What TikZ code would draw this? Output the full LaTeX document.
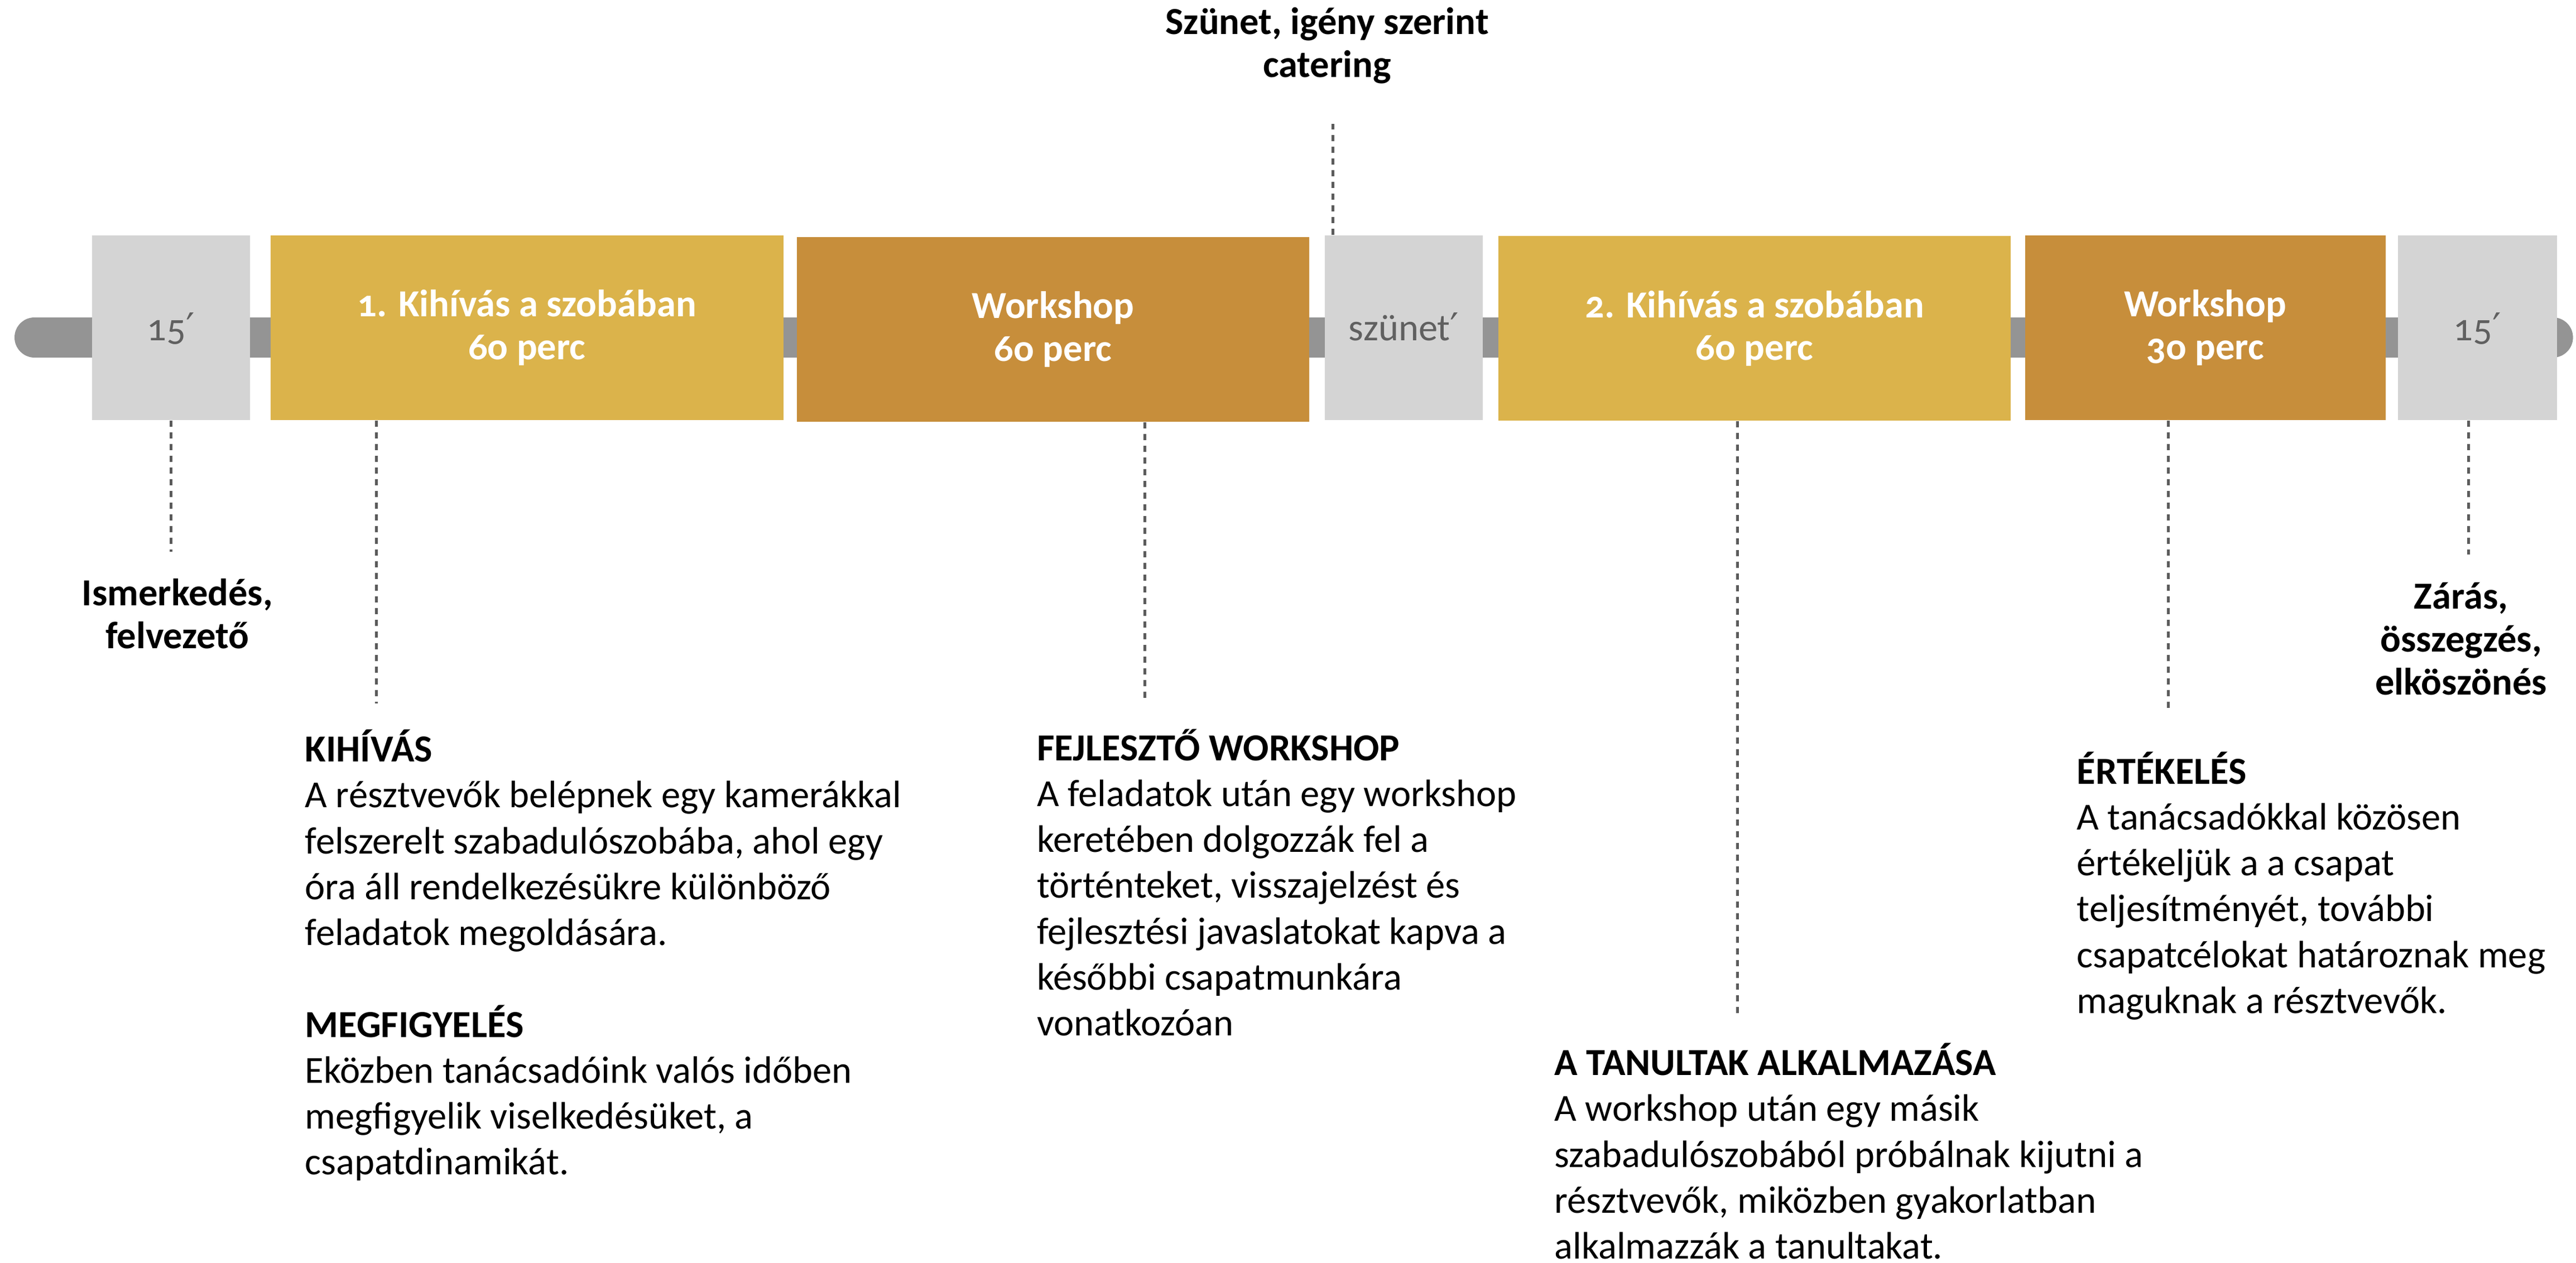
\documentclass[tikz,border=0pt]{standalone}
\usepackage{fontspec}
\setmainfont{Carlito}[Numbers=OldStyle]
\newfontfamily\primefont{DejaVu Sans}
\newcommand{\perc}{{\primefont ′}}
\usepackage{tikz}

\definecolor{tlyellow}{HTML}{DBB34B}
\definecolor{tlbrown}{HTML}{C78E3B}
\definecolor{tlgray}{HTML}{D4D4D4}
\definecolor{tlbar}{HTML}{949494}
\definecolor{tltext}{HTML}{606060}
\definecolor{tldash}{HTML}{5B5B5B}

\begin{document}
\begin{tikzpicture}[x=0.02944cm,y=-0.02944cm]
		\tikzstyle{every node}+=[inner sep=0pt]
		\tikzstyle{slot}=[minimum height=3.31cm, text=white, align=center, font=\fontsize{19.5}{21.7}\selectfont\bfseries]
		\tikzstyle{gslot}=[slot, fill=tlgray, text=tltext, minimum width=2.83cm, text height=14pt, text depth=1pt, font=\fontsize{19.5}{21.7}\selectfont]
		\tikzstyle{yslot}=[slot, fill=tlyellow, minimum width=9.19cm]
		\tikzstyle{wslot}=[slot, fill=tlbrown]
		\tikzstyle{leader}=[draw=tldash, line width=0.05cm, dash pattern=on 0.11cm off 0.10cm]
		\tikzstyle{note}=[anchor=base, align=center, font=\fontsize{19.5}{21.9}\selectfont\bfseries]
		\tikzstyle{desc}=[anchor=base west, align=left, font=\fontsize{19.5}{23.4}\selectfont]
		\useasboundingbox (0,0) rectangle (1568,769);
		% timeline
		\coordinate (barl) at (21,205.4);
		\coordinate (barr) at (1554,205.4);
		\draw [tlbar, line width=0.716cm, line cap=round] (barl) -- (barr);
		\node [gslot] (b1) at (104,199.5) {15\perc};
		\node [yslot] (b2) at (320.75,199.5) {1. Kihívás a szobában\\6o perc};
		\node [wslot, minimum width=9.185cm] (b3) at (641,200.5) {Workshop\\6o perc};
		\node [gslot] (b4) at (854.5,199.5) {szünet\perc};
		\node [yslot, minimum width=9.185cm] (b5) at (1068,199.9) {2. Kihívás a szobában\\6o perc};
		\node [wslot, minimum width=6.456cm] (b6) at (1342.35,199.5) {Workshop\\3o perc};
		\node [gslot, minimum width=2.853cm] (b7) at (1508,199.5) {15\perc};
		% labels (anchored on their last line)
		\node [note] (szun) at (807.8,47) {Szünet, igény szerint\\catering};
		\node [note] (ism) at (108,395) {Ismerkedés,\\felvezető};
		\node [note] (zar) at (1498,423) {Zárás,\\összegzés,\\elköszönés};
		\node [desc] (kih) at (185.5,715.3) {\textbf{KIHÍVÁS}\\A résztvevők belépnek egy kamerákkal\\felszerelt szabadulószobába, ahol egy\\óra áll rendelkezésükre különböző\\feladatok megoldására.\\[23.4pt]\textbf{MEGFIGYELÉS}\\Eközben tanácsadóink valós időben\\megfigyelik viselkedésüket, a\\csapatdinamikát.};
		\node [desc] (fej) at (630.9,630.7) {\textbf{FEJLESZTŐ WORKSHOP}\\A feladatok után egy workshop\\keretében dolgozzák fel a\\történteket, visszajelzést és\\fejlesztési javaslatokat kapva a\\későbbi csapatmunkára\\vonatkozóan};
		\node [desc] (tan) at (946,766.5) {\textbf{A TANULTAK ALKALMAZÁSA}\\A workshop után egy másik\\szabadulószobából próbálnak kijutni a\\résztvevők, miközben gyakorlatban\\alkalmazzák a tanultakat.};
		\node [desc] (ert) at (1264,617) {\textbf{ÉRTÉKELÉS}\\A tanácsadókkal közösen\\értékeljük a a csapat\\teljesítményét, további\\csapatcélokat határoznak meg\\maguknak a résztvevők.};
		% dashed leaders
		\coordinate (e1) at (104,336);
		\coordinate (e2) at (229,428.4);
		\coordinate (e3) at (697,427);
		\coordinate (e4) at (811.4,75.4);
		\coordinate (e5) at (1057.5,617);
		\coordinate (e6) at (1320,431.3);
		\coordinate (e7) at (1502.5,337.8);
		\draw [leader] (b1) -- (e1);
		\draw [leader] (b2.south -| e2) -- (e2);
		\draw [leader] (b3.south -| e3) -- (e3);
		\draw [leader] (b4.north -| e4) -- (e4);
		\draw [leader] (b5.south -| e5) -- (e5);
		\draw [leader] (b6.south -| e6) -- (e6);
		\draw [leader] (b7.south -| e7) -- (e7);
\end{tikzpicture}
\end{document}
